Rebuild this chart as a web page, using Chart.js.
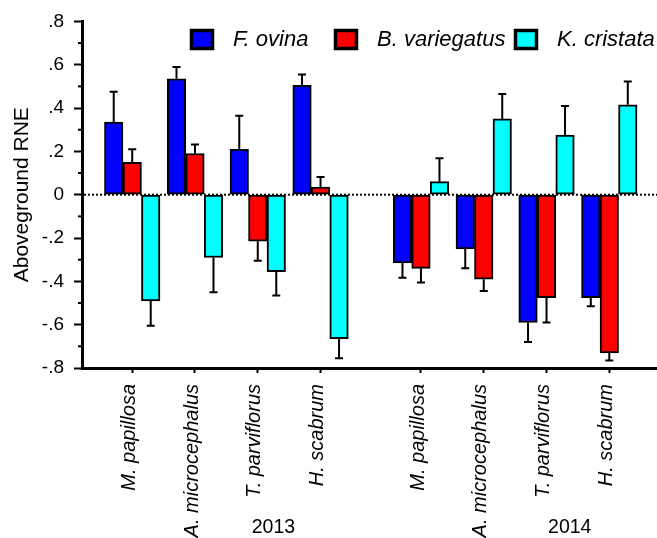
<!DOCTYPE html>
<html>
<head>
<meta charset="utf-8">
<script src="https://cdn.jsdelivr.net/npm/chart.js@4.4.1/dist/chart.umd.min.js"></script>
<style>
  html, body { margin: 0; padding: 0; background: #fff; }
  #wrap { width: 657px; height: 538px; }
</style>
</head>
<body>
<div id="wrap"><canvas id="chart" width="657" height="538"></canvas></div>
<script>
// species on the x axis (2013 block, then 2014 block)
const plants = ["M. papillosa", "A. microcephalus", "T. parviflorus", "H. scabrum",
                "M. papillosa", "A. microcephalus", "T. parviflorus", "H. scabrum"];
// slot of each group along the axis (gap between the two years)
const slots = [0, 1, 2, 3, 4.6, 5.6, 6.6, 7.6];
const years = ["2013", "2014"];
const yTicks = [0.8, 0.6, 0.4, 0.2, 0, -0.2, -0.4, -0.6, -0.8];

const neighbours = ["F. ovina", "B. variegatus", "K. cristata"];
const ovina      = [0.335, 0.535, 0.21, 0.505, -0.315, -0.25, -0.59, -0.475];
const ovinaErr   = [0.14, 0.055, 0.155, 0.05, 0.068, 0.09, 0.09, 0.04];
const varieg     = [0.15, 0.19, -0.215, 0.035, -0.34, -0.39, -0.475, -0.73];
const variegErr  = [0.06, 0.042, 0.09, 0.047, 0.065, 0.055, 0.115, 0.035];
const crist      = [-0.49, -0.29, -0.355, -0.665, 0.06, 0.35, 0.275, 0.415];
const cristErr   = [0.115, 0.16, 0.11, 0.09, 0.108, 0.115, 0.135, 0.108];

const colors = ["#0000ff", "#ff0000", "#00ffff"];
const FONT = "Arial, 'Liberation Sans', sans-serif";

function toPoints(vals) {
  return vals.map((v, i) => ({ x: slots[i], y: v }));
}

const zeroLine = {
  id: "zeroLine",
  beforeDatasetsDraw(chart) {
    const { ctx, chartArea, scales } = chart;
    const y = scales.y.getPixelForValue(0);
    ctx.save();
    ctx.strokeStyle = "#000";
    ctx.lineWidth = 2;
    ctx.setLineDash([2, 2]);
    ctx.beginPath();
    ctx.moveTo(chartArea.left + 2, y);
    ctx.lineTo(chartArea.right, y);
    ctx.stroke();
    ctx.restore();
  }
};

const errorBars = {
  id: "errorBars",
  afterDatasetsDraw(chart) {
    const { ctx, scales } = chart;
    ctx.save();
    ctx.strokeStyle = "#000";
    ctx.lineWidth = 2;
    chart.data.datasets.forEach((ds, i) => {
      const meta = chart.getDatasetMeta(i);
      meta.data.forEach((bar, j) => {
        const v = ds.data[j].y;
        const e = ds.errors[j];
        const end = v >= 0 ? v + e : v - e;
        const y0 = scales.y.getPixelForValue(v);
        const y1 = scales.y.getPixelForValue(end);
        ctx.beginPath();
        ctx.moveTo(bar.x, y0);
        ctx.lineTo(bar.x, y1);
        ctx.moveTo(bar.x - 4, y1);
        ctx.lineTo(bar.x + 4, y1);
        ctx.stroke();
      });
    });
    ctx.restore();
  }
};

// small ticks halfway between the labelled ones, plus year captions
const extras = {
  id: "extras",
  afterDraw(chart) {
    const { ctx, scales, chartArea } = chart;
    ctx.save();
    ctx.strokeStyle = "#000";
    ctx.lineWidth = 2;
    for (let k = 0; k < yTicks.length - 1; k++) {
      const y = scales.y.getPixelForValue((yTicks[k] + yTicks[k + 1]) / 2);
      ctx.beginPath();
      ctx.moveTo(chartArea.left - 4, y);
      ctx.lineTo(chartArea.left, y);
      ctx.stroke();
    }
    ctx.fillStyle = "#000";
    ctx.font = "19.5px " + FONT;
    ctx.textAlign = "center";
    ctx.textBaseline = "alphabetic";
    ctx.fillText(years[0], scales.x.getPixelForValue(2.25), 533);
    ctx.fillText(years[1], scales.x.getPixelForValue(6.97), 533);
    ctx.restore();
  }
};

const legendBoxes = {
  id: "legendBoxes",
  afterDraw(chart) {
    const { ctx } = chart;
    const boxX = [190, 334, 514];
    ctx.save();
    chart.data.datasets.forEach((ds, i) => {
      ctx.fillStyle = ds.backgroundColor;
      ctx.fillRect(boxX[i], 29, 24, 21);
      ctx.strokeStyle = "#000";
      ctx.lineWidth = 3.5;
      ctx.strokeRect(boxX[i] + 1.5, 30.5, 21, 18);
      ctx.fillStyle = "#000";
      ctx.font = "italic 22px " + FONT;
      ctx.textBaseline = "middle";
      ctx.textAlign = "left";
      ctx.fillText(ds.label, boxX[i] + 43, 40);
    });
    ctx.restore();
  }
};

const datasets = [
  { label: neighbours[0], data: toPoints(ovina), errors: ovinaErr },
  { label: neighbours[1], data: toPoints(varieg), errors: variegErr },
  { label: neighbours[2], data: toPoints(crist), errors: cristErr }
].map((d, i) => ({
  ...d,
  backgroundColor: colors[i],
  borderColor: "#000",
  borderWidth: 2,
  borderSkipped: false,
  barThickness: 18.5
}));

new Chart(document.getElementById("chart").getContext("2d"), {
  type: "bar",
  data: { datasets },
  options: {
    responsive: false,
    animation: false,
    layout: { padding: { top: 17, right: 0, left: 0, bottom: 0 } },
    plugins: { legend: { display: false }, tooltip: { enabled: false } },
    scales: {
      x: {
        type: "linear",
        offset: false,
        min: -0.8,
        max: 8.36,
        afterBuildTicks: (scale) => { scale.ticks = slots.map((v) => ({ value: v })); },
        afterFit: (scale) => { scale.height = 170; },
        grid: { drawOnChartArea: false, offset: false, tickLength: 5, tickWidth: 2, tickColor: "#000" },
        border: { color: "#000", width: 3 },
        ticks: {
          autoSkip: false,
          minRotation: 90,
          maxRotation: 90,
          padding: 11,
          labelOffset: -3,
          color: "#000",
          font: { family: FONT, size: 20, style: "italic" },
          callback: (v, i) => plants[i]
        }
      },
      y: {
        min: -0.8,
        max: 0.8,
        afterBuildTicks: (scale) => { scale.ticks = yTicks.map((v) => ({ value: v })); },
        afterFit: (scale) => { scale.width = 82; },
        grid: { drawOnChartArea: false, tickLength: 8, tickWidth: 2, tickColor: "#000" },
        border: { color: "#000", width: 3 },
        title: {
          display: true,
          text: "Aboveground RNE",
          color: "#000",
          padding: { top: 10, bottom: 0 },
          font: { family: FONT, size: 21 }
        },
        ticks: {
          padding: 10,
          color: "#000",
          font: { family: FONT, size: 19 },
          callback: (v) => Math.abs(v) < 1e-9 ? "0" : v.toFixed(1).replace("0.", ".")
        }
      }
    }
  },
  plugins: [zeroLine, errorBars, extras, legendBoxes]
});
</script>
</body>
</html>
